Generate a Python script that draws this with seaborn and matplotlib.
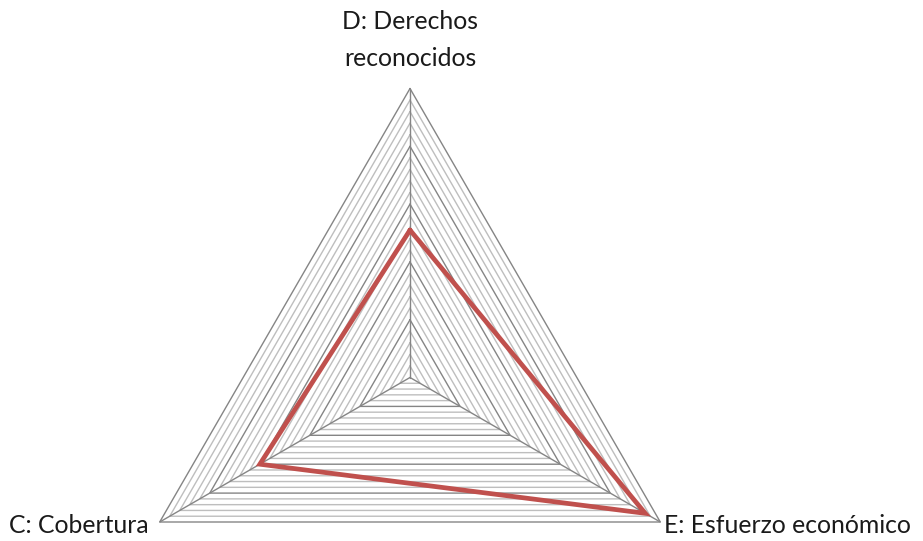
import numpy as np
import pandas as pd
import matplotlib
matplotlib.use("Agg")
import matplotlib.pyplot as plt
import seaborn as sns

# Data
categories = ["D: Derechos\nreconocidos", "E: Esfuerzo económico", "C: Cobertura"]
values = [0.51, 0.94, 0.60]
axis_max = 1.0
major_step = 0.2
minor_step = 0.04

sns.set_theme(style="white")
plt.rcParams['font.family'] = ['Lato', 'DejaVu Sans']

fig = plt.figure(figsize=(9.23, 5.41), dpi=100)
ax = fig.add_axes([0, 0, 1, 1])
ax.set_axis_off()

# angles: D top, E bottom-right, C bottom-left (clockwise)
angles = np.pi / 2 - np.arange(len(categories)) * 2 * np.pi / len(categories)
ca, sa = np.cos(angles), np.sin(angles)

def ring(r):
    xs = np.append(r * ca, r * ca[0])
    ys = np.append(r * sa, r * sa[0])
    return xs, ys

# minor rings
n_minor = int(round(axis_max / minor_step))
for i in range(1, n_minor + 1):
    r = i * minor_step
    is_major = abs(r / major_step - round(r / major_step)) < 1e-6
    if is_major:
        continue
    xs, ys = ring(r)
    ax.plot(xs, ys, color="#bebebe", lw=1.0, zorder=1, solid_joinstyle="miter")
# major rings
n_major = int(round(axis_max / major_step))
for i in range(1, n_major + 1):
    xs, ys = ring(i * major_step)
    ax.plot(xs, ys, color="#858585", lw=1.0, zorder=2, solid_joinstyle="miter")
# spokes
for c, s in zip(ca, sa):
    ax.plot([0, axis_max * c], [0, axis_max * s], color="#858585", lw=1.0, zorder=2)

# data line
df = pd.DataFrame({
    "x": np.append(np.array(values) * ca, values[0] * ca[0]),
    "y": np.append(np.array(values) * sa, values[0] * sa[0]),
    "order": np.arange(len(values) + 1),
})
sns.lineplot(data=df, x="x", y="y", sort=False, estimator=None, color="#C0504D",
             lw=3.4, ax=ax, zorder=5, solid_joinstyle="miter")

# labels
fs = 17.8
ax.text(0, 1.272, categories[0], ha="center", va="top", fontsize=fs,
        color="#1a1a1a", linespacing=1.75)
ax.text(axis_max * ca[1] + 0.012, axis_max * sa[1] - 0.012, categories[1], ha="left",
        va="center", fontsize=fs, color="#1a1a1a")
ax.text(axis_max * ca[2] - 0.04, axis_max * sa[2] - 0.012, categories[2], ha="right",
        va="center", fontsize=fs, color="#1a1a1a")

# map so that R=289px, center at (410, 377.5)
px = 289.0
cx, cy = 410.0, 377.5
ax.set_xlim(-cx / px, (923 - cx) / px)
ax.set_ylim(-(541 - cy) / px, cy / px)
ax.set_xlabel("")
ax.set_ylabel("")
if ax.get_legend():
    ax.get_legend().remove()

fig.savefig("out.png", dpi=100)
